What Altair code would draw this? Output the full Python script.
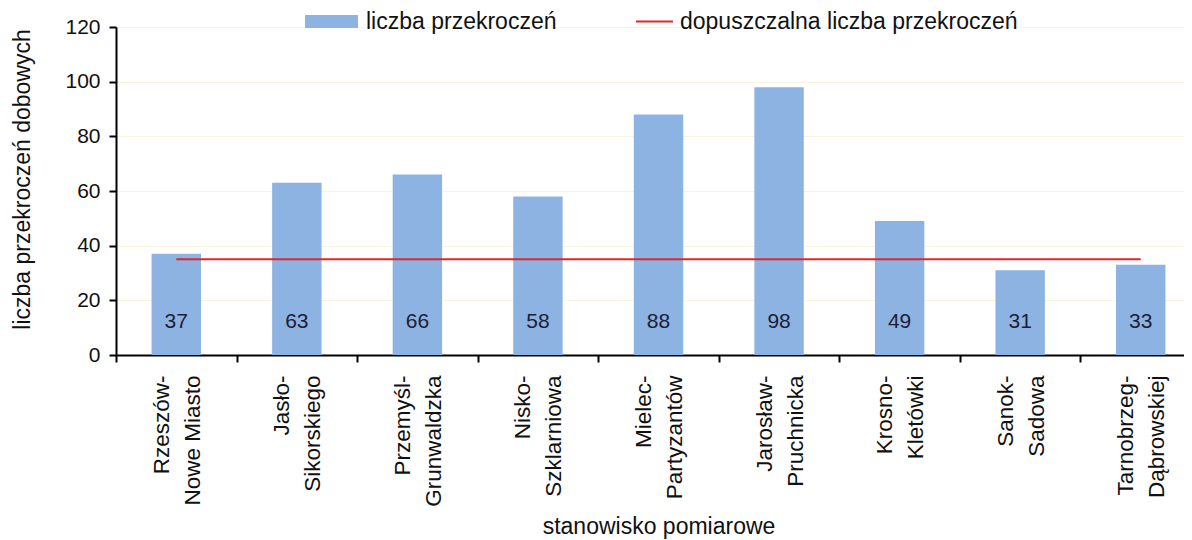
import altair as alt
import pandas as pd

stations = ["Rzeszów-|Nowe Miasto", "Jasło-|Sikorskiego", "Przemyśl-|Grunwaldzka",
            "Nisko-|Szklarniowa", "Mielec-|Partyzantów", "Jarosław-|Pruchnicka",
            "Krosno-|Kletówki", "Sanok-|Sadowa", "Tarnobrzeg-|Dąbrowskiej"]
counts = [37, 63, 66, 58, 88, 98, 49, 31, 33]
limit = [35, 35, 35, 35, 35, 35, 35, 35, 35]
y_ticks = [0, 20, 40, 60, 80, 100, 120]
bar_series = "liczba przekroczeń"
line_series = "dopuszczalna liczba przekroczeń"

df = pd.DataFrame({"station": stations, "count": counts, "limit": limit,
                   "bs": bar_series, "ls": line_series})

FONT = "Liberation Sans"

x = alt.X("station:N", sort=stations,
          scale=alt.Scale(paddingInner=0, paddingOuter=0),
          axis=alt.Axis(title="stanowisko pomiarowe", labelAngle=-90,
                        labelExpr="split(datum.label, '|')",
                        labelLineHeight=31, labelFontSize=22.5, labelPadding=13,
                        labelOffset=-15,
                        tickBand="extent", tickSize=7, tickWidth=2, tickColor="#000",
                        domainColor="#000", domainWidth=2,
                        titleFontSize=23, titleFontWeight="normal",
                        titleY=171, titleBaseline="middle", grid=False))

y_scale = alt.Scale(domain=[0, 120], nice=False)
y = alt.Y("count:Q", scale=y_scale,
          axis=alt.Axis(title="liczba przekroczeń dobowych", values=y_ticks,
                        labelFontSize=21, labelPadding=9,
                        tickSize=7, tickWidth=2, tickColor="#000",
                        domainColor="#000", domainWidth=2,
                        titleFontSize=23, titleFontWeight="normal",
                        titleX=-94, titleY=152, titleBaseline="middle",
                        grid=True, gridColor="#f8f5df", gridWidth=1))

base = alt.Chart(df)

bars = base.mark_bar(stroke=None, width=alt.RelativeBandSize(0.41)).encode(
    x=x, y=y,
    fill=alt.Fill("bs:N", scale=alt.Scale(domain=[bar_series], range=["#8db3e2"]),
                  legend=alt.Legend(title=None, orient="none", legendX=189, legendY=-32,
                                    symbolType="M-1,-0.245L1,-0.245L1,0.245L-1,0.245Z",
                                    symbolSize=2809, symbolStrokeWidth=0,
                                    labelFontSize=23, labelOffset=8, labelLimit=0,
                                    padding=0)))

line = base.mark_line(strokeWidth=2).encode(
    x=x, y=alt.Y("limit:Q", scale=y_scale),
    stroke=alt.Stroke("ls:N", scale=alt.Scale(domain=[line_series], range=["#e0262b"]),
                      legend=alt.Legend(title=None, orient="none", legendX=519, legendY=-25,
                                        symbolType="stroke", symbolSize=1369,
                                        symbolStrokeWidth=2,
                                        labelFontSize=23, labelOffset=6, labelLimit=0,
                                        padding=0)))

labels = base.mark_text(fontSize=21, color="#1c2036", baseline="middle", font=FONT).encode(
    x=x, y=alt.datum(12), text="count:Q")

chart = alt.layer(bars, line, labels).properties(
    width=1085, height=328,
    autosize=alt.AutoSizeParams(type="none"),
    padding={"left": 108, "top": 19, "right": -17, "bottom": 185},
).configure(font=FONT).configure_axis(
    labelColor="#111", titleColor="#111", labelFont=FONT, titleFont=FONT
).configure_legend(labelColor="#111", labelFont=FONT).configure_view(stroke=None)

chart.save("out.html", embed_options={"renderer": "svg", "actions": False})
